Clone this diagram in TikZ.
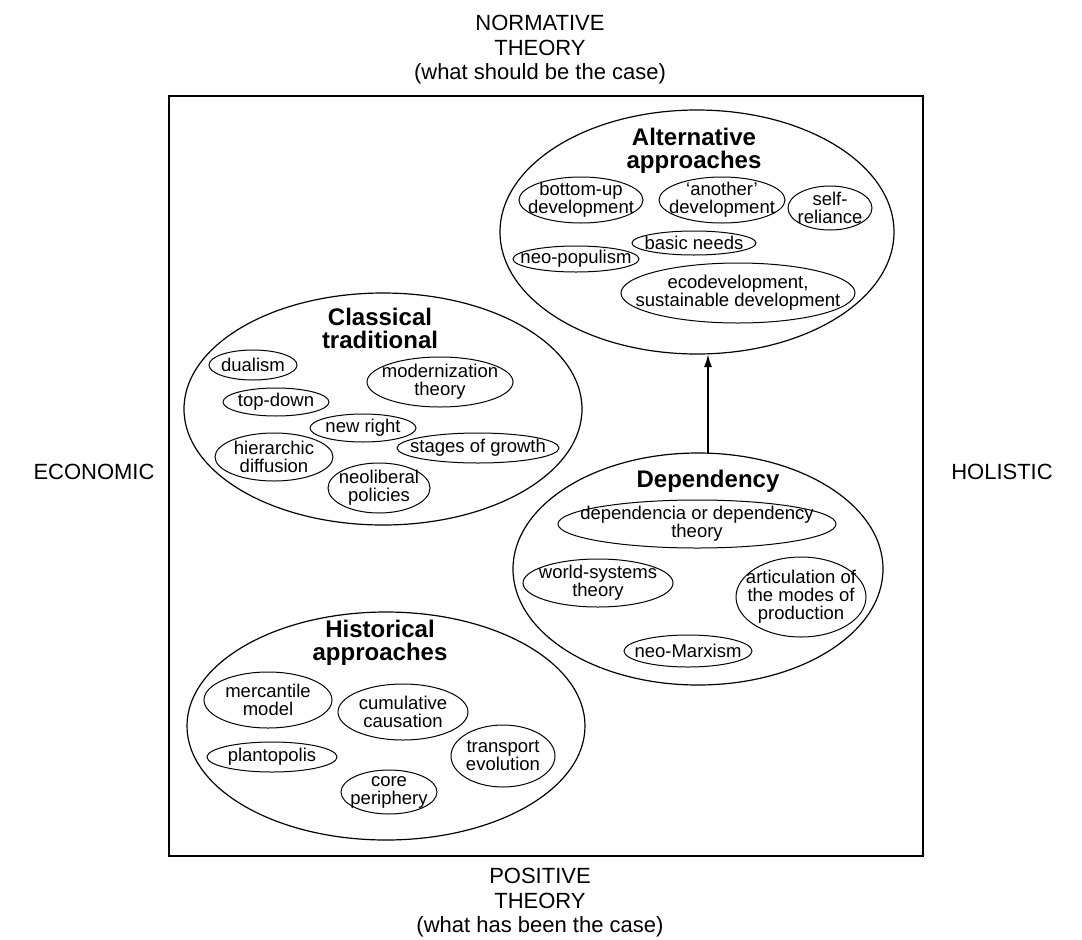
\documentclass[tikz,border=0pt]{standalone}
\usepackage{fontspec}
\setmainfont{Liberation Sans}
\usetikzlibrary{shapes.geometric,arrows.meta}
\newcommand\subell[6]{%
  \node[subtext] (#1) at (#2,#3) {#6};
  \draw[subline] (#1.center) ellipse [x radius=#4pt, y radius=#5pt];}
\begin{document}
\begin{tikzpicture}[x=1pt,y=-1pt,
  axislabel/.style={font=\fontsize{22}{24.5}\selectfont, align=center, inner sep=0pt},
  titletext/.style={font=\fontsize{24}{23}\selectfont\bfseries, align=center, inner sep=0pt},
  subtext/.style={font=\fontsize{18.5}{18}\selectfont, align=center, inner sep=0pt},
  subline/.style={line width=1pt},
  bigell/.style={draw, ellipse, line width=1.2pt, inner sep=0pt, outer sep=0pt},
  frameline/.style={line width=2.2pt},
  link/.style={line width=2pt, -{Latex[length=13pt,width=8pt]}}
]
\useasboundingbox (0,0) rectangle (1082,940);
\fill[white] (0,0) rectangle (1082,940);

% frame
\draw[frameline] (169,96) rectangle (923,856);

% axis labels
\node[axislabel] (norm) at (540,50) {NORMATIVE\\THEORY\\(what should be the case)};
\node[axislabel] (pos) at (540,903) {POSITIVE\\THEORY\\(what has been the case)};
\node[axislabel] (econ) at (94,472) {ECONOMIC};
\node[axislabel] (hol) at (1002,472) {HOLISTIC};

% Alternative approaches
\node[bigell, minimum width=394pt, minimum height=244pt] (alt) at (697,232) {};
\node[titletext] (altT) at (694,151) {Alternative\\approaches};
\subell{bu}{581}{200}{62}{23}{bottom-up\\development}
\subell{an}{722}{200}{63}{23}{`another'\\development}
\subell{sr}{830}{208}{42}{22}{self-\\reliance}
\subell{bn}{694}{243}{62}{12}{basic needs}
\subell{np}{576}{259}{63}{13}{neo-populism}
\subell{eco}{738}{293}{117}{30}{ecodevelopment,\\sustainable development}

% Classical traditional
\node[bigell, minimum width=398pt, minimum height=232pt] (cl) at (383,409) {};
\node[titletext] (clT) at (380,328) {Classical\\traditional};
\subell{du}{253}{365}{44}{15}{dualism}
\subell{td}{276}{402}{53}{14}{top-down}
\subell{mo}{440}{382}{73}{25}{modernization\\theory}
\subell{nr}{363}{428}{53}{14}{new right}
\subell{hd}{274}{457}{59}{24}{hierarchic\\diffusion}
\subell{sg}{478}{448}{81}{15}{stages of growth}
\subell{nl}{379}{488}{51}{25}{neoliberal\\policies}

% Dependency
\node[bigell, minimum width=370pt, minimum height=232pt] (dep) at (698,569) {};
\node[titletext] (depT) at (708,481) {Dependency};
\subell{dt}{697}{524}{139}{24}{dependencia or dependency\\theory}
\subell{ws}{598}{583}{75}{24}{world-systems\\theory}
\subell{ar}{801}{597}{65}{40}{articulation of\\the modes of\\production}
\subell{nm}{688}{651}{64}{16}{neo-Marxism}

% Historical approaches
\node[bigell, minimum width=398pt, minimum height=228pt] (hist) at (386,726) {};
\node[titletext] (histT) at (380,643) {Historical\\approaches};
\subell{me}{268}{700}{64}{28}{mercantile\\model}
\subell{cu}{403}{712}{65}{28}{cumulative\\causation}
\subell{pl}{272}{757}{65}{15}{plantopolis}
\subell{tr}{503}{756}{52}{31}{transport\\evolution}
\subell{cp}{389}{792}{48}{22}{core\\periphery}

% connector
\draw[link] (dep.north -| depT) -- (depT |- alt.south);
\end{tikzpicture}
\end{document}
